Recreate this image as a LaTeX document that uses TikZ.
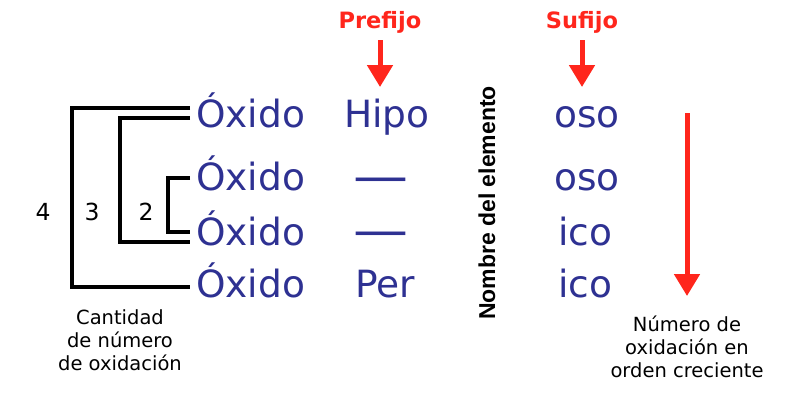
\documentclass[tikz,border=0pt]{standalone}
\usepackage{fontspec}
\setmainfont{DejaVu Sans}
\newfontfamily\arialfont{Liberation Sans}
\usetikzlibrary{arrows.meta,calc}
\definecolor{oxblue}{RGB}{46,49,146}
\definecolor{arred}{RGB}{255,38,28}
\begin{document}
\begin{tikzpicture}[x=1pt,y=-1pt,
  big/.style={text=oxblue,font=\fontsize{37.5}{40}\selectfont,inner sep=0,anchor=base},
  ox/.style={big,anchor=base west},
  dsh/.style={text=oxblue,font=\fontsize{50}{50}\selectfont,inner sep=0,anchor=base},
  br/.style={line width=3.5pt,line join=miter},
  num/.style={font=\fontsize{23.5}{24}\selectfont,inner sep=0},
  lab/.style={font=\bfseries\fontsize{22.5}{26}\selectfont,text=arred,inner sep=0,anchor=base},
  redarr/.style={draw=arred,line width=5pt,-{Triangle[width=25pt,length=22pt]}},
  note/.style={font=\fontsize{19.5}{23}\selectfont,align=center,inner sep=0,anchor=north}]
\useasboundingbox (0,0) rectangle (800,400);
% Oxido column
\node[ox] (ox1) at (196,127) {Óxido};
\node[ox] (ox2) at (196,190) {Óxido};
\node[ox] (ox3) at (196,245) {Óxido};
\node[ox] (ox4) at (196,297) {Óxido};
% prefixes
\node[big] (hipo) at (387,127) {Hipo};
\node[dsh] (d2) at (381,193.5) {\scalebox{1.1}[1]{—}};
\node[dsh] (d3) at (381,247.5) {\scalebox{1.1}[1]{—}};
\node[big] (per) at (385,297) {Per};
% suffixes
\node[big] (s1) at (587,127) {oso};
\node[big] (s2) at (587,190) {oso};
\node[big] (s3) at (585,245) {ico};
\node[big] (s4) at (585,297) {ico};
% headers
\node[lab] (pre) at (380,28) {Prefijo};
\node[lab] (suf) at (582,28) {Sufijo};
\draw[redarr] ($(pre.base)+(0,12)$) -- ($(pre.base)+(0,59)$);
\draw[redarr] ($(suf.base)+(0,12)$) -- ($(suf.base)+(0,59)$);
% element name
\node[font=\arialfont\bfseries\fontsize{23}{26}\selectfont,rotate=90,inner sep=0] (nom) at (487,203) {Nombre del elemento};
% brackets
\draw[br] ($(ox1.base west)+(-6,-19)$) -- ++(-118,0) |- ($(ox4.base west)+(-6,-10)$);
\draw[br] ($(ox1.base west)+(-6,-9)$) -- ++(-70,0) |- ($(ox3.base west)+(-6,-3)$);
\draw[br] ($(ox2.base west)+(-6,-12)$) -- ++(-22,0) |- ($(ox3.base west)+(-6,-13)$);
\node[num] (n4) at (43,212) {4};
\node[num] (n3) at (92,212) {3};
\node[num] (n2) at (146,212) {2};
% notes
\node[note] (cant) at (120,309) {Cantidad\\de número\\de oxidación};
\coordinate (ra1) at (687,113);
\coordinate (ra2) at (687,296);
\draw[redarr] (ra1) -- (ra2);
\node[note] (orden) at (687,316) {Número de\\oxidación en\\orden creciente};
\end{tikzpicture}
\end{document}
